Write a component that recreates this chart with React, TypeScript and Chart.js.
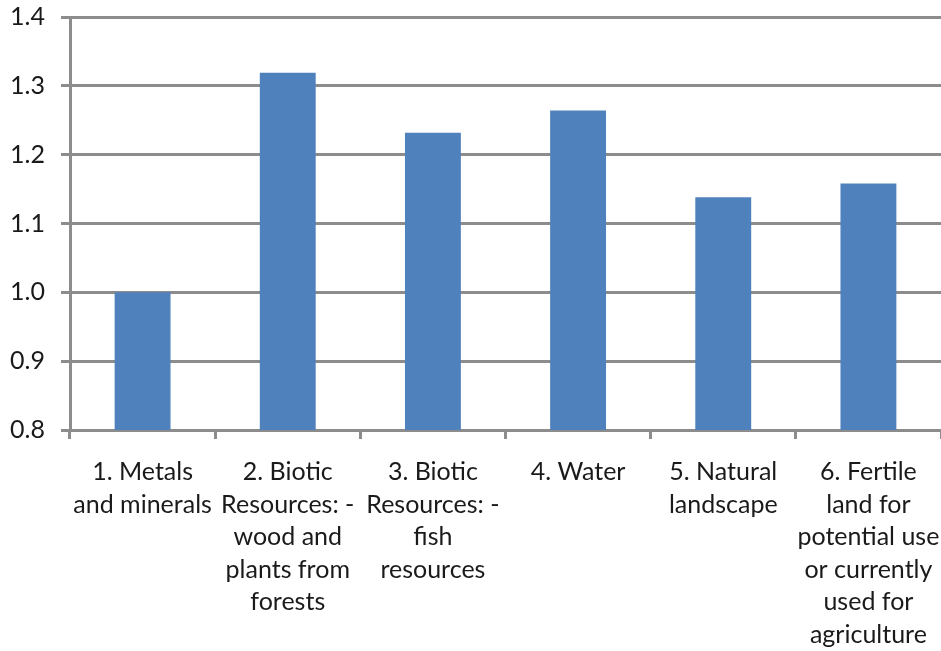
import React, { useEffect, useRef } from "react";
import { Chart, registerables } from "chart.js";

Chart.register(...registerables);

const categories: string[][] = [
  ["1. Metals", "and minerals"],
  ["2. Biotic", "Resources: -", "wood and", "plants from", "forests"],
  ["3. Biotic", "Resources: -", "fish", "resources"],
  ["4. Water"],
  ["5. Natural", "landscape"],
  ["6. Fertile", "land for", "potential use", "or currently", "used for", "agriculture"],
];
const values: number[] = [1.0, 1.319, 1.232, 1.264, 1.138, 1.158];
const yMin = 0.8;
const yMax = 1.4;
const yStep = 0.1;

export default function App() {
  const ref = useRef<HTMLCanvasElement | null>(null);
  useEffect(() => {
    if (!ref.current) return;
    const gridColor = "#8c8c8c";
    const font = { family: "Lato, 'Open Sans', sans-serif", size: 25 };
    const chart = new Chart(ref.current, {
      type: "bar",
      data: {
        labels: categories,
        datasets: [
          {
            data: values,
            backgroundColor: "#4f81bd",
            borderWidth: 0,
            categoryPercentage: 1,
            barPercentage: 0.385,
          },
        ],
      },
      options: {
        animation: false,
        responsive: false,
        maintainAspectRatio: false,
        layout: { padding: { top: 17, right: -2, left: 0, bottom: 0 } },
        plugins: { legend: { display: false }, tooltip: { enabled: false } },
        scales: {
          x: {
            grid: {
              display: true,
              drawOnChartArea: false,
              drawTicks: true,
              tickLength: 9,
              color: gridColor,
              lineWidth: 3,
              offset: true,
            },
            border: { display: true, color: gridColor, width: 3 },
            ticks: {
              font: { ...font, lineHeight: 1.3 },
              color: "#1a1a1a",
              maxRotation: 0,
              minRotation: 0,
              autoSkip: false,
              padding: 17,
            },
            afterFit: (scale: any) => {
              scale.height = 651 - 430;
              scale.paddingLeft = 0;
              scale.paddingRight = 0;
            },
          },
          y: {
            min: yMin,
            max: yMax,
            grid: {
              color: gridColor,
              lineWidth: 3,
              drawTicks: true,
              tickLength: 9,
            },
            border: { display: true, color: gridColor, width: 3 },
            ticks: {
              stepSize: yStep,
              font,
              color: "#1a1a1a",
              padding: 16,
              callback: (v: any) => Number(v).toFixed(1),
            },
            afterFit: (scale: any) => {
              scale.width = 70;
              scale.paddingTop = 0;
              scale.paddingBottom = 0;
            },
          },
        },
      },
    });
    return () => chart.destroy();
  }, []);
  return (
    <div style={{ position: "fixed", left: 0, top: 0, width: 941, height: 651, background: "#fff" }}>
      <canvas ref={ref} width={941} height={651} style={{ width: 941, height: 651 }} />
    </div>
  );
}
